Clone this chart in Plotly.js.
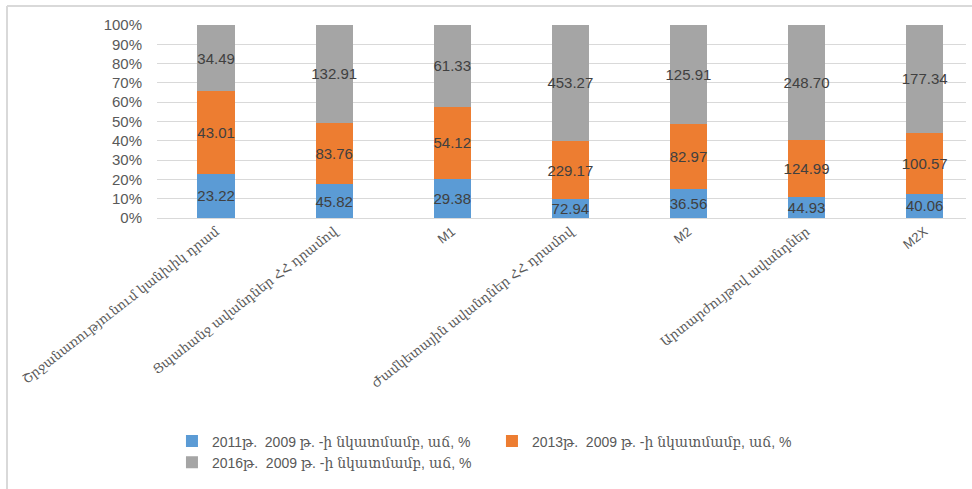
<!DOCTYPE html>
<html>
<head>
<meta charset="utf-8">
<script src="https://cdn.plot.ly/plotly-3.0.1.min.js"></script>
<style>
  html, body { margin: 0; padding: 0; background: #ffffff; }
  #chart { width: 972px; height: 489px; }
</style>
</head>
<body>
<div id="chart"></div>
<script>
const categories = [
  "Շրջանառությունում կանխիկ դրամ",
  "Ցպահանջ ավանդներ ՀՀ դրամով",
  "M1",
  "Ժամկետային ավանդներ ՀՀ դրամով",
  "M2",
  "Արտարժույթով ավանդներ",
  "M2X"
];
const seriesNames = [
  "2011թ.  2009 թ. -ի նկատմամբ, աճ, %",
  "2013թ.  2009 թ. -ի նկատմամբ, աճ, %",
  "2016թ.  2009 թ. -ի նկատմամբ, աճ, %"
];
const values2011 = [23.22, 45.82, 29.38, 72.94, 36.56, 44.93, 40.06];
const values2013 = [43.01, 83.76, 54.12, 229.17, 82.97, 124.99, 100.57];
const values2016 = [34.49, 132.91, 61.33, 453.27, 125.91, 248.70, 177.34];
const colors = ["#5B9BD5", "#ED7D31", "#A5A5A5"];

const allSeries = [values2011, values2013, values2016];
const FONT = "'Liberation Sans', 'DejaVu Serif', 'DejaVu Sans', sans-serif";

const traces = allSeries.map((vals, i) => ({
  type: "bar",
  name: seriesNames[i],
  x: categories,
  y: vals,
  marker: { color: colors[i] },
  text: vals.map(v => v.toFixed(2)),
  textposition: "inside",
  insidetextanchor: "middle",
  textangle: 0,
  constraintext: "none",
  textfont: { color: "#404040", size: 15, family: FONT },
  hoverinfo: "x+y+name",
  width: 0.315
}));

const layout = {
  width: 972,
  height: 489,
  barmode: "stack",
  barnorm: "percent",
  margin: { l: 157, r: 6, t: 25, b: 271 },
  paper_bgcolor: "#ffffff",
  plot_bgcolor: "#ffffff",
  font: { family: FONT, color: "#595959", size: 13 },
  showlegend: true,
  xaxis: {
    type: "category",
    range: [-0.5, 6.35],
    tickangle: -38,
    tickfont: { size: 13, color: "#595959", family: FONT },
    showgrid: false,
    showline: true,
    linecolor: "#d9d9d9",
    linewidth: 1,
    ticks: "",
    automargin: false
  },
  yaxis: {
    range: [0, 100],
    dtick: 10,
    ticksuffix: "%",
    ticklabelstandoff: 14,
    tickfont: { size: 15, color: "#595959", family: FONT },
    showgrid: true,
    gridcolor: "#d9d9d9",
    gridwidth: 1,
    zeroline: false,
    showline: false,
    ticks: "",
    automargin: false
  },
  legend: {
    orientation: "h",
    x: 0.0185,
    xanchor: "left",
    y: -1.075,
    yanchor: "top",
    font: { size: 14, color: "#595959", family: FONT },
    traceorder: "normal",
    itemwidth: 30,
    entrywidth: 275
  },
  shapes: [
    { type: "line", xref: "paper", yref: "paper", x0: -0.1854, x1: -0.1854, y0: 1.098, y1: -1.6,
      line: { color: "#d9d9d9", width: 2 } },
    { type: "line", xref: "paper", yref: "paper", x0: -0.1854, x1: 1.01, y0: 1.098, y1: 1.098,
      line: { color: "#d9d9d9", width: 2 } }
  ]
};

Plotly.newPlot("chart", traces, layout, { displayModeBar: false, staticPlot: true });
</script>
</body>
</html>
